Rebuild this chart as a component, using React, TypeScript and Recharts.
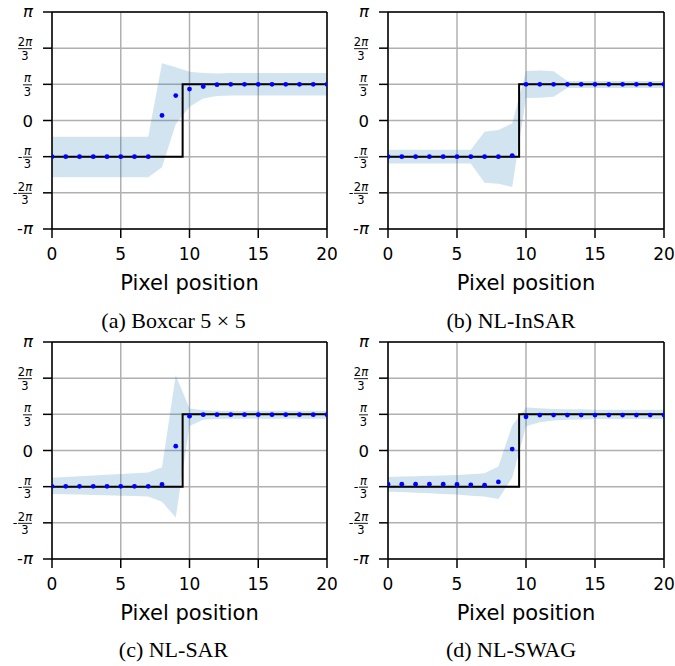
import React from 'react';
import {
  ComposedChart,
  Area,
  Line,
  Scatter,
  XAxis,
  YAxis,
  CartesianGrid,
  ReferenceLine,
} from 'recharts';

// values are stored in units of pi/3
const U = Math.PI / 3;

const pixels = [0, 1, 2, 3, 4, 5, 6, 7, 8, 9, 10, 11, 12, 13, 14, 15, 16, 17, 18, 19, 20];
const truth = [-1, -1, -1, -1, -1, -1, -1, -1, -1, -1, 1, 1, 1, 1, 1, 1, 1, 1, 1, 1, 1];

const xTicks = [0, 5, 10, 15, 20];
const yTicks = [-3, -2, -1, 0, 1, 2, 3].map((k) => k * U);
const yTickLabels = ['-π', '-2π/3', '-π/3', '0', 'π/3', '2π/3', 'π'];

// (a) Boxcar 5x5
const meanA = [-1, -1, -1, -1, -1, -1, -1, -1, 0.14, 0.69, 0.87, 0.94, 0.99, 1, 1, 1, 1, 1, 1, 1, 1];
const lowA = [-1.57, -1.57, -1.57, -1.57, -1.57, -1.57, -1.57, -1.57, -1.29, -0.1, 0.38, 0.61, 0.68, 0.69, 0.69, 0.69, 0.69, 0.69, 0.69, 0.69, 0.69];
const highA = [-0.45, -0.45, -0.45, -0.45, -0.45, -0.45, -0.45, -0.45, 1.58, 1.47, 1.35, 1.31, 1.3, 1.31, 1.31, 1.31, 1.31, 1.31, 1.31, 1.31, 1.31];

// (b) NL-InSAR
const meanB = [-1, -1, -1, -1, -1, -1, -1, -1, -1, -0.97, 1, 1, 1, 1, 1, 1, 1, 1, 1, 1, 1];
const lowB = [-1.19, -1.19, -1.19, -1.19, -1.19, -1.19, -1.19, -1.72, -1.75, -1.84, 0.62, 0.63, 0.66, 0.9, 0.9, 0.9, 0.9, 0.9, 0.9, 0.9, 0.9];
const highB = [-0.81, -0.81, -0.81, -0.81, -0.81, -0.81, -0.81, -0.31, -0.26, -0.08, 1.37, 1.38, 1.36, 1.09, 1.09, 1.09, 1.09, 1.09, 1.09, 1.09, 1.09];

// (c) NL-SAR
const meanC = [-0.99, -0.99, -0.99, -0.99, -0.99, -0.99, -0.99, -0.99, -0.94, 0.12, 0.95, 0.99, 0.99, 0.99, 0.99, 0.99, 0.99, 0.99, 0.99, 0.99, 0.99];
const lowC = [-1.2, -1.21, -1.22, -1.23, -1.24, -1.25, -1.26, -1.27, -1.42, -1.85, 0.68, 0.85, 0.87, 0.88, 0.88, 0.88, 0.88, 0.88, 0.88, 0.88, 0.88];
const highC = [-0.75, -0.73, -0.71, -0.69, -0.67, -0.65, -0.63, -0.61, -0.46, 2.08, 1.16, 1.11, 1.1, 1.1, 1.1, 1.1, 1.1, 1.1, 1.1, 1.1, 1.1];

// (d) NL-SWAG
const meanD = [-0.93, -0.93, -0.93, -0.93, -0.93, -0.94, -0.95, -0.96, -0.87, 0.04, 0.93, 0.98, 0.98, 0.98, 0.98, 0.98, 0.98, 0.98, 0.98, 0.98, 0.98];
const lowD = [-1.14, -1.15, -1.17, -1.18, -1.2, -1.22, -1.25, -1.27, -1.34, -0.75, 0.67, 0.78, 0.83, 0.85, 0.86, 0.87, 0.87, 0.87, 0.87, 0.87, 0.87];
const highD = [-0.73, -0.72, -0.71, -0.7, -0.69, -0.68, -0.66, -0.63, -0.44, 0.69, 1.19, 1.17, 1.15, 1.14, 1.14, 1.13, 1.13, 1.13, 1.13, 1.13, 1.13];

const FONT = 'DejaVu Sans';

const PiTick = (props: any) => {
  const { x, y, index } = props;
  const lab: string = yTickLabels[index];
  const right = x - 10;
  const neg = lab.startsWith('-');
  const body = neg ? lab.slice(1) : lab;

  if (!body.includes('/')) {
    return (
      <text x={right} y={body === '0' ? y + 6 : y + 5} textAnchor="end" fontSize={16.5} fontFamily={FONT} fill="#000">
        {neg ? '-' : ''}
        {body === '0' ? '0' : <tspan fontStyle="italic">π</tspan>}
      </text>
    );
  }
  const num = body.split('/')[0];
  const digits = num.replace('π', '');
  const w = digits ? 14 : 9;
  const cx = right - 1 - w / 2;
  return (
    <g>
      {neg && (
        <text x={cx - w / 2 - 0.5} y={y + 4} textAnchor="end" fontSize={13} fontFamily={FONT} fill="#000">
          -
        </text>
      )}
      <text x={cx} y={y - 2} textAnchor="middle" fontSize={11.5} fontFamily={FONT} fill="#000">
        {digits}
        <tspan fontStyle="italic">π</tspan>
      </text>
      <line x1={cx - w / 2} x2={cx + w / 2} y1={y + 0.5} y2={y + 0.5} stroke="#000" strokeWidth={0.9} />
      <text x={cx} y={y + 11.5} textAnchor="middle" fontSize={11.5} fontFamily={FONT} fill="#000">
        3
      </text>
    </g>
  );
};

const Dot = (p: any) => <circle cx={p.cx} cy={p.cy} r={2.4} fill="#0000ff" />;

interface PanelProps {
  mean: number[];
  low: number[];
  high: number[];
  left: number;
  top: number;
  width: number;
  rightMargin: number;
}

const Panel: React.FC<PanelProps> = ({ mean, low, high, left, top, width, rightMargin }) => {
  const rows = pixels.map((x, i) => ({
    x,
    truth: truth[i] * U,
    mu: mean[i] * U,
    band: [low[i] * U, high[i] * U],
  }));

  return (
    <div style={{ position: 'absolute', left, top }}>
      <ComposedChart width={width} height={300} data={rows} margin={{ top: 12, right: rightMargin, bottom: 11, left: 0 }}>
        <CartesianGrid stroke="#b0b0b0" strokeWidth={1.5} />
        <XAxis
          type="number"
          dataKey="x"
          domain={[0, 20]}
          ticks={xTicks}
          interval={0}
          allowDataOverflow
          height={60}
          tickSize={9}
          tickMargin={10}
          axisLine={{ stroke: '#000', strokeWidth: 1.5 }}
          tickLine={{ stroke: '#000', strokeWidth: 1.5 }}
          tick={{ fill: '#000', fontSize: 17, fontFamily: FONT }}
          label={{
            value: 'Pixel position',
            position: 'insideBottom',
            offset: -1,
            fill: '#000',
            fontSize: 21,
            fontFamily: FONT,
          }}
        />
        <YAxis
          type="number"
          domain={[-Math.PI, Math.PI]}
          ticks={yTicks}
          interval={0}
          allowDataOverflow
          width={52}
          tickSize={9}
          tickMargin={0}
          axisLine={{ stroke: '#000', strokeWidth: 1.5 }}
          tickLine={{ stroke: '#000', strokeWidth: 1.5 }}
          tick={<PiTick />}
        />
        <Area
          type="linear"
          dataKey="band"
          stroke="none"
          fill="#1f77b4"
          fillOpacity={0.2}
          dot={false}
          activeDot={false}
          isAnimationActive={false}
        />
        <Line
          type="step"
          dataKey="truth"
          stroke="#000"
          strokeWidth={2}
          dot={false}
          activeDot={false}
          isAnimationActive={false}
        />
        <Scatter dataKey="mu" shape={<Dot />} isAnimationActive={false} />
        <ReferenceLine y={Math.PI} stroke="#000" strokeWidth={1.5} />
        <ReferenceLine x={20} stroke="#000" strokeWidth={1.5} />
      </ComposedChart>
    </div>
  );
};

const captions = [
  { text: '(a) Boxcar 5 × 5', x: 173.5, y: 328 },
  { text: '(b) NL-InSAR', x: 511, y: 328 },
  { text: '(c) NL-SAR', x: 173.5, y: 657 },
  { text: '(d) NL-SWAG', x: 511, y: 657 },
];

export default function App() {
  return (
    <div style={{ position: 'absolute', left: 0, top: 0, width: 675, height: 666, background: '#fff' }}>
      <Panel mean={meanA} low={lowA} high={highA} left={0} top={0} width={337} rightMargin={10} />
      <Panel mean={meanB} low={lowB} high={highB} left={336} top={0} width={339} rightMargin={11} />
      <Panel mean={meanC} low={lowC} high={highC} left={0} top={330} width={337} rightMargin={10} />
      <Panel mean={meanD} low={lowD} high={highD} left={336} top={330} width={339} rightMargin={11} />
      <svg width={675} height={666} style={{ position: 'absolute', left: 0, top: 0, pointerEvents: 'none' }}>
        {captions.map((c) => (
          <text key={c.text} x={c.x} y={c.y} textAnchor="middle" fontSize={22} fontFamily="Liberation Serif" fill="#000">
            {c.text}
          </text>
        ))}
      </svg>
    </div>
  );
}
